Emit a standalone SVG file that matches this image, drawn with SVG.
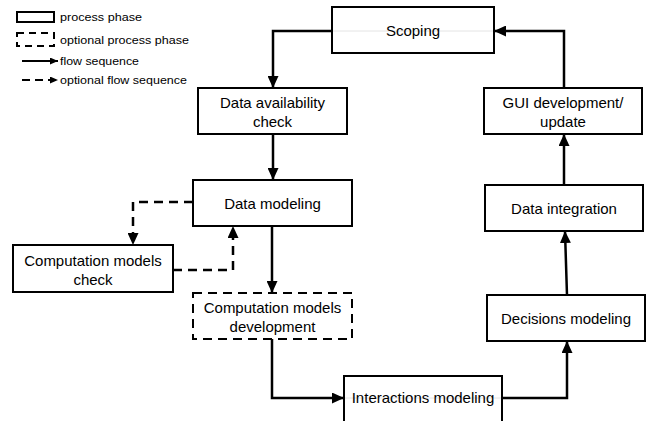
<svg xmlns="http://www.w3.org/2000/svg" width="646" height="421" viewBox="0 0 646 421">
<style>
.box{fill:#fff;stroke:#000;stroke-width:2}
.dbox{fill:#fff;stroke:#000;stroke-width:2;stroke-dasharray:9 6}
.t{font-family:"Liberation Sans",Arial,sans-serif;font-size:15px;fill:#000;text-anchor:middle}
.lt{font-family:"Liberation Sans",Arial,sans-serif;font-size:11px;fill:#000}
.c{fill:none;stroke:#000;stroke-width:2.5;marker-end:url(#ah)}
.dc{fill:none;stroke:#000;stroke-width:2.5;stroke-dasharray:9 6;marker-end:url(#ah)}
.hair{stroke:#ddd;stroke-width:0.8}
</style>
<defs>
<marker id="ah" viewBox="0 0 12 11" refX="12" refY="5.5" markerWidth="12" markerHeight="11" markerUnits="userSpaceOnUse" orient="auto">
<path d="M0,0 L12,5.5 L0,11 z" fill="#000"/>
</marker>
<marker id="ahs" viewBox="0 0 8 7" refX="8" refY="3.5" markerWidth="8" markerHeight="7" markerUnits="userSpaceOnUse" orient="auto">
<path d="M0,0 L8,3.5 L0,7 z" fill="#000"/>
</marker>
</defs>
<rect width="646" height="421" fill="#fff"/>
<g id="legend">
<rect x="17" y="12" width="37" height="10" fill="#fff" stroke="#000" stroke-width="2"/>
<text class="lt" x="60" y="21" textLength="82" lengthAdjust="spacingAndGlyphs">process phase</text>
<rect x="17" y="33" width="37" height="13" fill="#fff" stroke="#000" stroke-width="2" stroke-dasharray="7 5"/>
<text class="lt" x="60" y="44" textLength="129" lengthAdjust="spacingAndGlyphs">optional process phase</text>
<line x1="22" y1="61" x2="58" y2="61" stroke="#000" stroke-width="1.8" marker-end="url(#ahs)"/>
<text class="lt" x="60" y="65" textLength="79" lengthAdjust="spacingAndGlyphs">flow sequence</text>
<line x1="22" y1="80" x2="58" y2="80" stroke="#000" stroke-width="1.8" stroke-dasharray="8 5" marker-end="url(#ahs)"/>
<text class="lt" x="60" y="84" textLength="127" lengthAdjust="spacingAndGlyphs">optional flow sequence</text>
</g>
<g id="connectors">
<path class="c" d="M332,31 H273 V88"/>
<path class="c" d="M273,134 V180"/>
<path class="c" d="M272,226 V293"/>
<path class="c" d="M272,339 V398 H344"/>
<path class="c" d="M502,398 H567 V341"/>
<path class="c" d="M567,295 L565,231"/>
<path class="c" d="M564,185 V134"/>
<path class="c" d="M564,88 V31 H494"/>
<path class="dc" d="M193,202 H133 V245"/>
<path class="dc" d="M173,270 H233 V226"/>
</g>
<g id="scoping">
<rect class="box" x="332" y="7" width="162" height="46"/>
<line class="hair" x1="333" y1="31" x2="493" y2="31"/>
<text class="t" x="413" y="36">Scoping</text>
</g>
<g id="data-availability">
<rect class="box" x="198" y="88" width="149" height="46"/>
<text class="t" x="272.5" y="108">Data availability</text>
<text class="t" x="272.5" y="126.5">check</text>
</g>
<g id="data-modeling">
<rect class="box" x="193" y="180" width="159" height="46"/>
<text class="t" x="272.5" y="208.5">Data modeling</text>
</g>
<g id="computation-check">
<rect class="box" x="13" y="245" width="160" height="47"/>
<text class="t" x="93" y="266">Computation models</text>
<text class="t" x="93" y="284.5">check</text>
</g>
<g id="computation-development">
<rect class="dbox" x="193" y="293" width="159" height="46"/>
<text class="t" x="272.5" y="313">Computation models</text>
<text class="t" x="272.5" y="331.5">development</text>
</g>
<g id="interactions-modeling">
<rect class="box" x="344" y="376" width="158" height="50"/>
<line class="hair" x1="345" y1="398" x2="501" y2="398"/>
<text class="t" x="423" y="403">Interactions modeling</text>
</g>
<g id="decisions-modeling">
<rect class="box" x="487" y="295" width="158" height="46"/>
<text class="t" x="566" y="323.5">Decisions modeling</text>
</g>
<g id="data-integration">
<rect class="box" x="485" y="185" width="158" height="46"/>
<text class="t" x="564" y="213.5">Data integration</text>
</g>
<g id="gui">
<rect class="box" x="484" y="88" width="158" height="46"/>
<text class="t" x="563" y="108">GUI development/</text>
<text class="t" x="563" y="126.5">update</text>
</g>
</svg>
